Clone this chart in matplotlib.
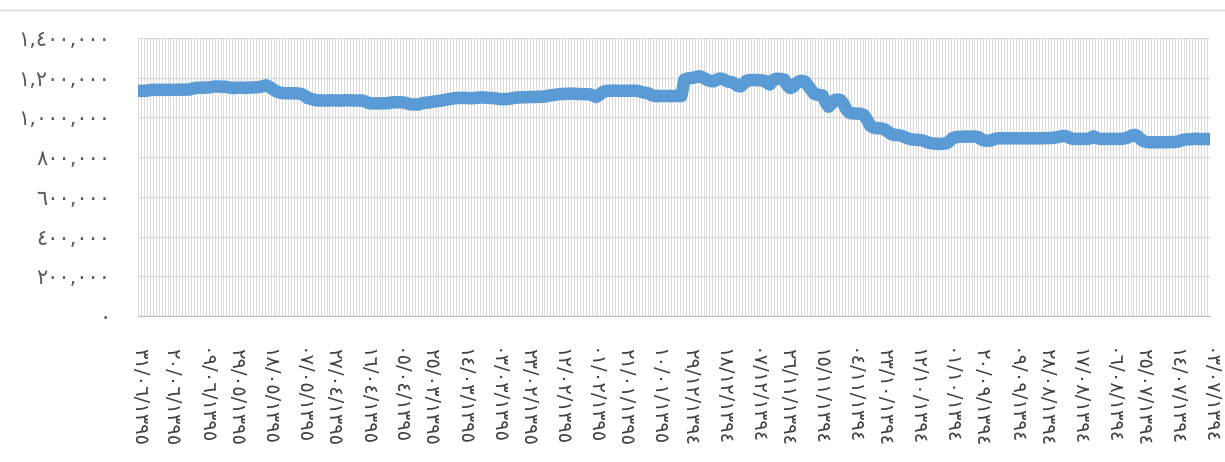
import matplotlib
matplotlib.use("Agg")
import matplotlib.pyplot as plt
import numpy as np
from matplotlib.lines import Line2D

# daily values in thousands, newest day first (chart runs right-to-left in time)
values_k = [
    1134, 1134, 1134, 1136, 1139, 1139, 1139, 1139, 1139, 1139, 1139,
    1139, 1139, 1140, 1140, 1140, 1140, 1141, 1146, 1148, 1150, 1150,
    1150, 1151, 1152, 1155, 1156, 1156, 1154, 1155, 1152, 1150, 1148,
    1150, 1150, 1150, 1149, 1150, 1151, 1152, 1152, 1154, 1158, 1162,
    1155, 1145, 1135, 1128, 1124, 1122, 1122, 1122, 1121, 1122, 1120,
    1118, 1110, 1098, 1095, 1090, 1086, 1086, 1086, 1085, 1086, 1086,
    1086, 1085, 1085, 1086, 1087, 1086, 1086, 1085, 1085, 1086, 1084,
    1078, 1072, 1071, 1071, 1071, 1071, 1072, 1071, 1074, 1076, 1076,
    1077, 1076, 1075, 1070, 1066, 1066, 1065, 1066, 1072, 1074, 1075,
    1078, 1080, 1082, 1084, 1086, 1089, 1092, 1094, 1097, 1098, 1098,
    1099, 1098, 1097, 1097, 1098, 1100, 1101, 1100, 1099, 1098, 1098,
    1096, 1093, 1092, 1092, 1093, 1095, 1098, 1100, 1101, 1101, 1102,
    1102, 1103, 1103, 1104, 1104, 1105, 1106, 1110, 1112, 1114, 1116,
    1118, 1118, 1119, 1120, 1120, 1119, 1118, 1118, 1117, 1117, 1116,
    1110, 1103, 1112, 1125, 1132, 1134, 1134, 1135, 1135, 1134, 1134,
    1134, 1134, 1135, 1135, 1134, 1130, 1126, 1124, 1120, 1112, 1108,
    1108, 1108, 1108, 1108, 1108, 1108, 1108, 1108, 1108, 1190, 1196,
    1198, 1200, 1204, 1207, 1204, 1195, 1188, 1183, 1182, 1190, 1196,
    1194, 1186, 1180, 1178, 1172, 1160, 1156, 1168, 1184, 1188, 1188,
    1189, 1188, 1187, 1186, 1175, 1166, 1188, 1194, 1195, 1193, 1190,
    1160, 1148, 1155, 1172, 1182, 1184, 1180, 1160, 1140, 1120, 1114,
    1113, 1110, 1075, 1054, 1070, 1088, 1090, 1088, 1070, 1040, 1024,
    1020, 1020, 1019, 1018, 1012, 990, 960, 950, 946, 946, 944,
    940, 930, 918, 912, 912, 910, 906, 900, 894, 890, 888,
    887, 886, 884, 878, 872, 870, 868, 867, 867, 868, 870,
    880, 895, 900, 902, 903, 903, 904, 903, 904, 903, 900,
    888, 883, 883, 884, 890, 894, 895, 895, 895, 895, 895,
    895, 895, 895, 895, 895, 895, 895, 895, 895, 895, 896,
    896, 896, 897, 899, 902, 905, 907, 904, 896, 892, 892,
    892, 892, 892, 892, 896, 905, 896, 892, 892, 892, 892,
    892, 892, 892, 892, 893, 896, 902, 910, 912, 905, 888,
    880, 876, 875, 875, 875, 875, 875, 875, 875, 876, 876,
    877, 880, 886, 889, 890, 890, 892, 893, 890, 891, 892,
    891,
]

# every 11th day is labelled
x_labels = [
    "٣١/٠٦/١٣٩٥", "٢٠/٠٦/١٣٩٥", "٠٩/٠٦/١٣٩٥", "٢٩/٠٥/١٣٩٥", "١٨/٠٥/١٣٩٥",
    "٠٧/٠٥/١٣٩٥", "٢٧/٠٤/١٣٩٥", "١٦/٠٤/١٣٩٥", "٠٥/٠٤/١٣٩٥", "٢٥/٠٣/١٣٩٥",
    "١٤/٠٣/١٣٩٥", "٠٣/٠٣/١٣٩٥", "٢٣/٠٢/١٣٩٥", "١٢/٠٢/١٣٩٥", "٠١/٠٢/١٣٩٥",
    "٢١/٠١/١٣٩٥", "١٠/٠١/١٣٩٥", "٢٩/١٢/١٣٩٤", "١٨/١٢/١٣٩٤", "٠٧/١٢/١٣٩٤",
    "٢٦/١١/١٣٩٤", "١٥/١١/١٣٩٤", "٠٤/١١/١٣٩٤", "٢٣/١٠/١٣٩٤", "١٢/١٠/١٣٩٤",
    "٠١/١٠/١٣٩٤", "٢٠/٠٩/١٣٩٤", "٠٩/٠٩/١٣٩٤", "٢٨/٠٨/١٣٩٤", "١٧/٠٨/١٣٩٤",
    "٠٦/٠٨/١٣٩٤", "٢٥/٠٧/١٣٩٤", "١٤/٠٧/١٣٩٤", "٠٣/٠٧/١٣٩٤",
]
label_step = 11

y_ticks = [0, 200000, 400000, 600000, 800000, 1000000, 1200000, 1400000]
y_labels = ["٠", "٢٠٠,٠٠٠", "٤٠٠,٠٠٠", "٦٠٠,٠٠٠", "٨٠٠,٠٠٠",
            "١,٠٠٠,٠٠٠", "١,٢٠٠,٠٠٠", "١,٤٠٠,٠٠٠"]

plt.rcParams["font.family"] = ["DejaVu Sans"]

values = np.array(values_k) * 1000
n = len(values)
x = np.arange(n)

fig = plt.figure(figsize=(12.25, 4.62), dpi=100)
ax = fig.add_axes([0.1127, 0.316, 0.8751, 0.6017])

grid_c = "#D9D9D9"
ax.set_xlim(-0.5, n - 0.5)
ax.set_ylim(0, 1400000)

# one vertical gridline per category, horizontal every 200k
ax.set_xticks(np.arange(-0.5, n, 1), minor=True)
ax.grid(True, which="minor", axis="x", color=grid_c, lw=0.7)
ax.set_yticks(y_ticks)
ax.grid(True, which="major", axis="y", color=grid_c, lw=0.9)
ax.set_axisbelow(True)

ax.set_xticks(np.arange(0, n, label_step))
ax.set_xticklabels(x_labels, rotation=-90, fontsize=14, color="#404040",
                   va="top", ha="center")
ax.set_yticklabels(y_labels, fontsize=15, color="#595959")
ax.tick_params(axis="both", which="both", length=0)
ax.tick_params(axis="x", pad=23)
ax.tick_params(axis="y", pad=20)

for side in ("top", "right", "left"):
    ax.spines[side].set_visible(False)
ax.spines["bottom"].set_color("#BFBFBF")

ax.plot(x, values, color="#5B9BD5", lw=9, solid_joinstyle="round",
        solid_capstyle="round")

# chart area top border
fig.add_artist(Line2D([0, 1], [1 - 10 / 462, 1 - 10 / 462],
                      transform=fig.transFigure, color="#D9D9D9", lw=1))

fig.savefig("out.png", dpi=100)
